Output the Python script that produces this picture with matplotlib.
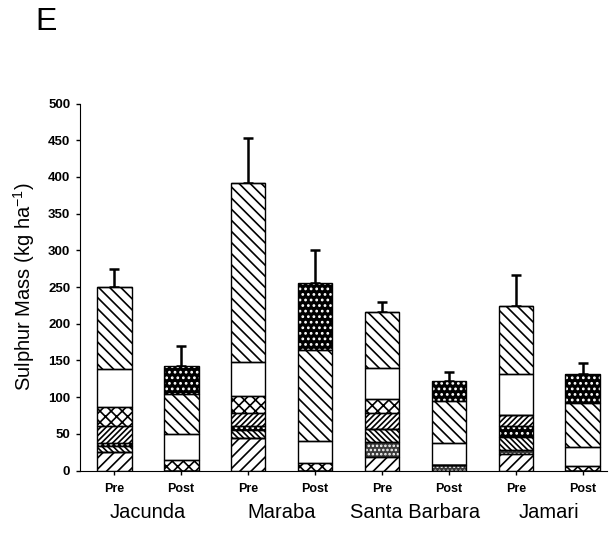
import matplotlib.pyplot as plt
import numpy as np

plt.rcParams['font.family'] = ['Liberation Sans', 'DejaVu Sans']
plt.rcParams['hatch.linewidth'] = 1.2

sites = ['Jacunda', 'Maraba', 'Santa Barbara', 'Jamari']
periods = ['Pre', 'Post', 'Pre', 'Post', 'Pre', 'Post', 'Pre', 'Post']

# stacked sulphur pools, bottom to top (kg/ha)
layer1 = [25, 0, 44, 0, 19, 0, 22, 0]
layer2 = [0, 0, 0, 0, 20, 8, 6, 0]
layer3 = [8, 0, 11, 0, 18, 0, 17, 0]
layer4 = [4, 0, 6, 0, 0, 0, 15, 0]
layer5 = [24, 0, 17, 0, 21, 0, 16, 0]
layer6 = [26, 14, 23, 10, 20, 0, 0, 6]
layer7 = [51, 36, 47, 30, 41, 29, 56, 26]
layer8 = [112, 54, 244, 124, 77, 58, 92, 60]
layer9 = [0, 38, 0, 91, 0, 27, 0, 39]
err_upper = [25, 28, 61, 45, 13, 12, 43, 15]

layers = [layer1, layer2, layer3, layer4, layer5, layer6, layer7, layer8, layer9]
# (face colour, hatch colour, hatch)
styles = [
    ('white', 'black', '///'),
    ('#3a3a3a', 'white', '....'),
    ('white', 'black', '\\\\\\\\\\\\'),
    ('black', 'white', '...'),
    ('white', 'black', '//////'),
    ('white', 'black', 'xxx'),
    ('white', 'black', ''),
    ('white', 'black', '\\\\\\'),
    ('black', 'white', '...'),
]

fig = plt.figure(figsize=(6.09, 5.34), dpi=100)
ax = fig.add_axes([80 / 609, 63.5 / 534, 527 / 609, 367 / 534])

x = np.arange(len(periods))
width = 0.52
bottom = np.zeros(len(periods))
for vals, (fc, hc, hatch) in zip(layers, styles):
    vals = np.array(vals, dtype=float)
    ax.bar(x, vals, width, bottom=bottom, color=fc, edgecolor=hc,
           hatch=hatch, linewidth=0, zorder=2)
    ax.bar(x, vals, width, bottom=bottom, fill=False, edgecolor='black',
           linewidth=1.0, zorder=3)
    bottom += vals

ax.errorbar(x, bottom, yerr=[np.zeros(len(x)), err_upper], fmt='none',
            ecolor='black', elinewidth=1.8, capsize=3.5, capthick=1.8,
            zorder=1)

ax.set_xlim(-0.51, 7.36)
ax.set_ylim(0, 500)
ax.set_yticks(range(0, 501, 50))
ax.set_yticklabels([str(v) for v in range(0, 501, 50)], fontsize=9.5,
                   fontweight='bold')
ax.set_xticks(x)
ax.set_xticklabels(periods, fontsize=9, fontweight='bold')
ax.tick_params(axis='both', direction='out', length=3, width=1, pad=4)
ax.tick_params(axis='x', pad=6)
ax.spines['top'].set_visible(False)
ax.spines['right'].set_visible(False)
ax.set_ylabel('Sulphur Mass (kg ha$^{\\mathregular{-1}}$)', fontsize=14.5,
              labelpad=8)

for i, site in enumerate(sites):
    ax.text(2 * i + 0.5, -0.115, site, transform=ax.get_xaxis_transform(),
            ha='center', va='center', fontsize=14.5)

fig.text(35 / 609, 1 - 22 / 534, 'E', fontsize=23, ha='left', va='center')

fig.savefig('out.png', dpi=100)
